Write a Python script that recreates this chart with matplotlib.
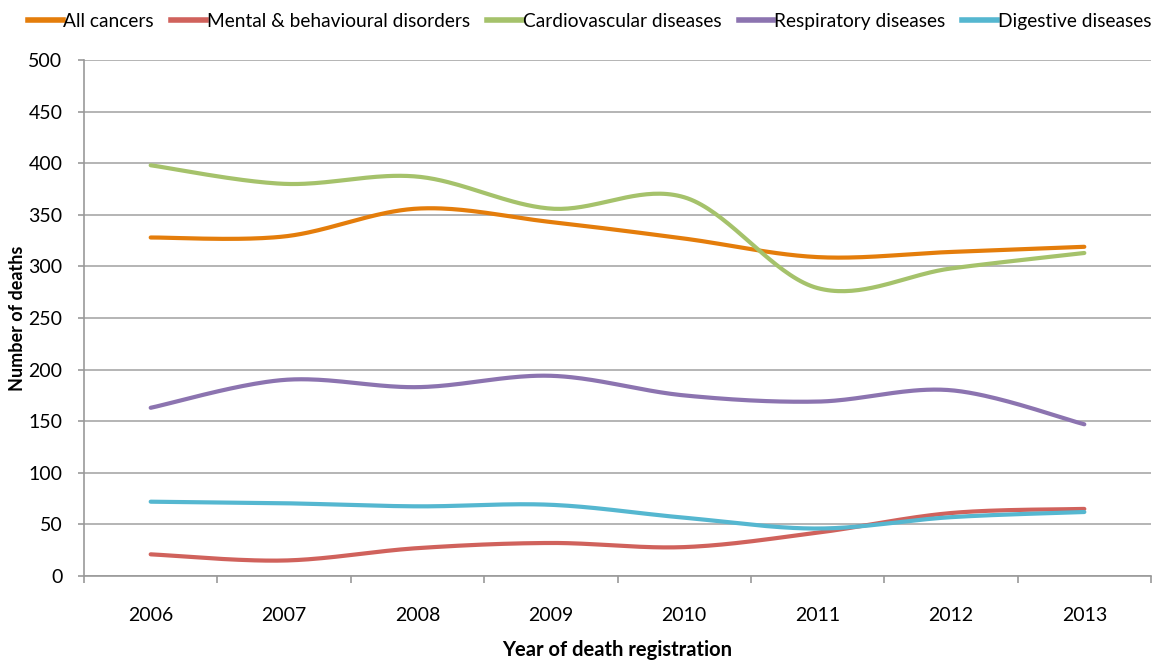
import numpy as np
import matplotlib
matplotlib.use("Agg")
import matplotlib.pyplot as plt
from matplotlib.lines import Line2D

years = ["2006", "2007", "2008", "2009", "2010", "2011", "2012", "2013"]
all_cancers = [328, 329, 356, 343, 327, 309, 314, 319]
mental = [21, 15, 27, 32, 28, 42, 61, 65]
cardio = [398, 380, 387, 356, 367, 279, 298, 313]
respiratory = [163, 190, 183, 194, 175, 169, 180, 147]
digestive = [72, 70.5, 67.5, 69, 56.5, 46, 57, 62]

series = [
    ("All cancers", all_cancers, "#E47D0B"),
    ("Mental & behavioural disorders", mental, "#D0625C"),
    ("Cardiovascular diseases", cardio, "#A5C26B"),
    ("Respiratory diseases", respiratory, "#8C74B0"),
    ("Digestive diseases", digestive, "#55B7D0"),
]

plt.rcParams['font.family'] = ['Lato', 'DejaVu Sans']


def smooth(y, n=40):
    """Catmull-Rom (Excel-style smoothed line) through points."""
    y = np.asarray(y, float)
    x = np.arange(len(y), dtype=float)
    px = np.concatenate([[x[0]], x, [x[-1]]])
    py = np.concatenate([[y[0]], y, [y[-1]]])
    xs, ys = [], []
    t = np.linspace(0, 1, n)
    for i in range(1, len(px) - 2):
        p0x, p1x, p2x, p3x = px[i - 1], px[i], px[i + 1], px[i + 2]
        p0y, p1y, p2y, p3y = py[i - 1], py[i], py[i + 1], py[i + 2]
        c1x = p1x + (p2x - p0x) / 6
        c1y = p1y + (p2y - p0y) / 6
        c2x = p2x - (p3x - p1x) / 6
        c2y = p2y - (p3y - p1y) / 6
        b0 = (1 - t) ** 3
        b1 = 3 * (1 - t) ** 2 * t
        b2 = 3 * (1 - t) * t ** 2
        b3 = t ** 3
        xs.append(b0 * p1x + b1 * c1x + b2 * c2x + b3 * p2x)
        ys.append(b0 * p1y + b1 * c1y + b2 * c2y + b3 * p2y)
    return np.concatenate(xs), np.concatenate(ys)


fig = plt.figure(figsize=(11.52, 6.6), dpi=100)
ax = fig.add_axes([84 / 1152, 1 - 576 / 660, (1151 - 84) / 1152, (576 - 60) / 660])

for name, vals, col in series:
    sx, sy = smooth(vals)
    ax.plot(sx, sy, color=col, lw=3.0, solid_capstyle='round', zorder=3)

ax.set_xlim(-0.5, len(years) - 0.5)
ax.set_ylim(0, 500)
ax.set_yticks(np.arange(0, 501, 50))
ax.set_yticklabels([str(v) for v in range(0, 501, 50)], fontsize=14)
ax.yaxis.grid(True, color="#A8A8A8", lw=1.2)
ax.set_axisbelow(True)

ax.set_xticks(np.arange(len(years)))
ax.set_xticklabels(years, fontsize=14)
ax.set_xticks(np.arange(-0.5, len(years)), minor=True)
ax.tick_params(axis='x', which='major', length=0, pad=22)
ax.tick_params(axis='x', which='minor', length=5, color="#999999", width=1.2)
ax.tick_params(axis='y', length=4.5, color="#999999", width=1.2, pad=11)

for s in ['top', 'right']:
    ax.spines[s].set_visible(False)
for s in ['left', 'bottom']:
    ax.spines[s].set_color("#999999")
    ax.spines[s].set_linewidth(1.2)

ax.set_ylabel("Number of deaths", fontsize=13, fontweight='bold', labelpad=2)
ax.set_xlabel("Year of death registration", fontsize=14.5, fontweight='bold', labelpad=12)

handles = [Line2D([0], [0], color=c, lw=4) for _, _, c in series]
labels = [n for n, _, _ in series]
fig.legend(handles, labels, loc='upper left', bbox_to_anchor=(28 / 1152, 1 - 13 / 660), ncol=5,
           frameon=False, fontsize=13.8, handlelength=1.8, handletextpad=0.05,
           columnspacing=0.9, borderaxespad=0, borderpad=0)

fig.savefig("out.png", dpi=100)
